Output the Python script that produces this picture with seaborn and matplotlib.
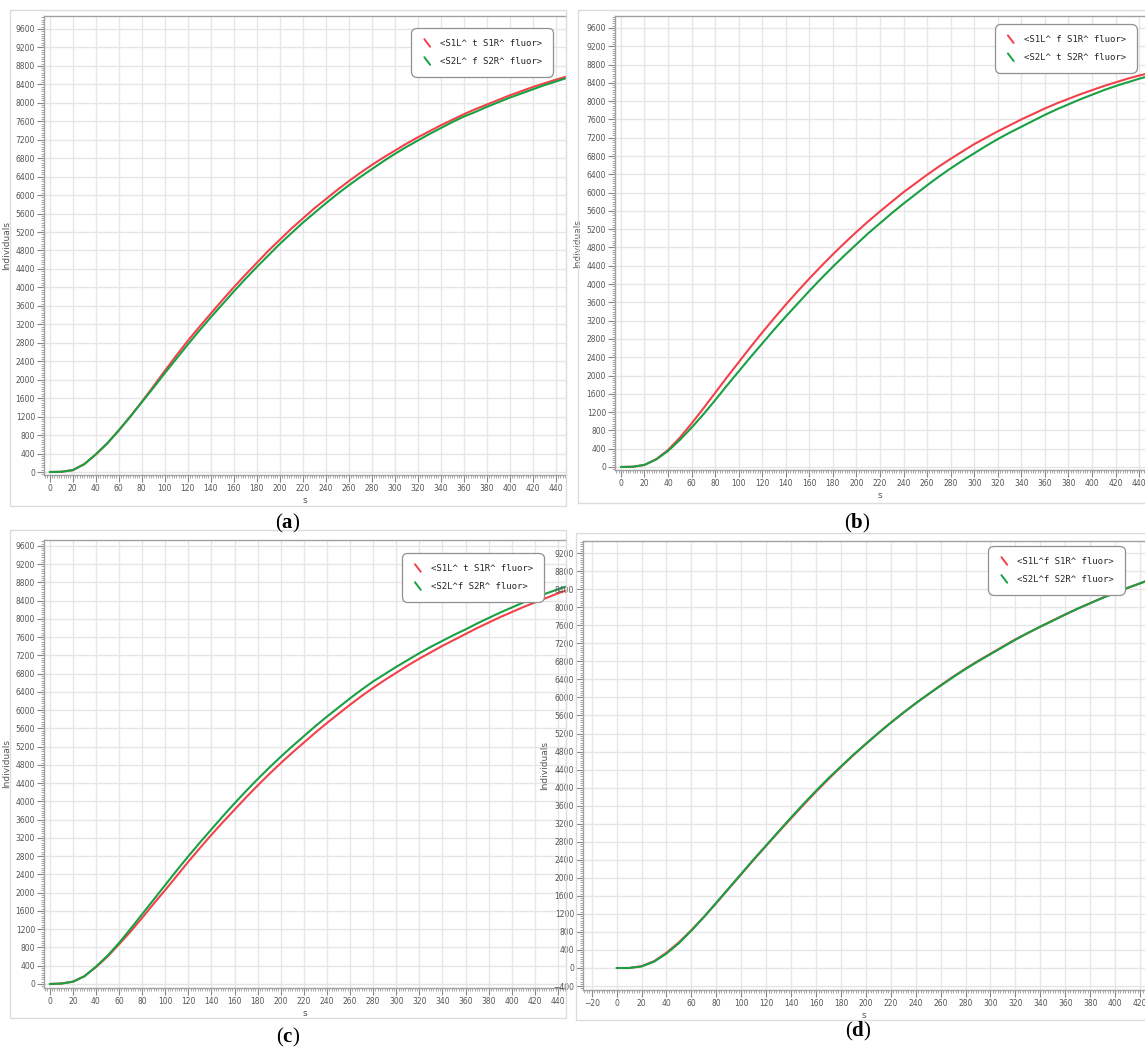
import numpy as np
import pandas as pd
import seaborn as sns
import matplotlib
matplotlib.use("Agg")
import matplotlib.pyplot as plt
from matplotlib.lines import Line2D
from matplotlib.patches import Rectangle
from matplotlib.legend_handler import HandlerBase
from matplotlib.ticker import AutoMinorLocator

# ---- data: population counts (Individuals) vs simulated time (s) ----
time_abc = list(range(0, 460, 10))
time_d = list(range(0, 440, 10))

a_s1 = [0, 5, 40, 170, 380, 620, 900, 1200, 1520, 1850,
        2190, 2520, 2840, 3140, 3430, 3720, 4000, 4270, 4530, 4790,
        5030, 5270, 5490, 5710, 5910, 6110, 6300, 6480, 6650, 6810,
        6960, 7110, 7250, 7380, 7510, 7630, 7750, 7860, 7960, 8060,
        8160, 8250, 8340, 8420, 8500, 8570]
a_s2 = [0, 5, 40, 170, 380, 620, 900, 1200, 1510, 1820,
        2140, 2450, 2760, 3060, 3350, 3630, 3910, 4180, 4440, 4690,
        4940, 5170, 5400, 5610, 5820, 6020, 6210, 6390, 6560, 6730,
        6890, 7040, 7180, 7320, 7450, 7580, 7700, 7800, 7910, 8010,
        8110, 8200, 8290, 8380, 8460, 8540]

b_s1 = [0, 5, 45, 170, 370, 640, 950, 1280, 1620, 1960,
        2290, 2620, 2940, 3250, 3550, 3840, 4120, 4390, 4650, 4900,
        5140, 5370, 5590, 5800, 6010, 6200, 6390, 6570, 6740, 6900,
        7060, 7200, 7340, 7470, 7600, 7720, 7840, 7950, 8050, 8150,
        8240, 8330, 8410, 8490, 8560, 8620]
b_s2 = [0, 5, 45, 165, 350, 590, 860, 1150, 1460, 1780,
        2090, 2400, 2700, 3000, 3290, 3570, 3850, 4120, 4380, 4630,
        4870, 5110, 5330, 5550, 5760, 5960, 6160, 6350, 6530, 6700,
        6860, 7020, 7170, 7310, 7440, 7570, 7700, 7820, 7930, 8040,
        8140, 8240, 8330, 8410, 8490, 8560]

c_s1 = [0, 10, 50, 170, 370, 600, 870, 1150, 1450, 1760,
        2060, 2370, 2680, 2980, 3270, 3550, 3820, 4090, 4350, 4600,
        4840, 5070, 5290, 5510, 5720, 5920, 6120, 6310, 6490, 6660,
        6820, 6980, 7130, 7270, 7410, 7540, 7670, 7800, 7920, 8040,
        8150, 8260, 8360, 8460, 8560, 8650]
c_s2 = [0, 10, 50, 170, 380, 620, 900, 1210, 1530, 1850,
        2170, 2490, 2800, 3100, 3390, 3680, 3960, 4230, 4490, 4740,
        4980, 5210, 5430, 5650, 5860, 6060, 6260, 6450, 6630, 6790,
        6950, 7100, 7250, 7390, 7520, 7650, 7770, 7900, 8020, 8140,
        8250, 8360, 8460, 8560, 8650, 8730]

d_s1 = [0, 0, 40, 150, 340, 570, 840, 1130, 1440, 1760,
        2080, 2400, 2710, 3020, 3320, 3620, 3910, 4190, 4460, 4720,
        4970, 5210, 5440, 5660, 5870, 6070, 6270, 6460, 6640, 6810,
        6970, 7130, 7290, 7430, 7570, 7710, 7840, 7970, 8090, 8210,
        8320, 8430, 8530, 8630]
d_s2 = [0, 0, 35, 140, 320, 550, 830, 1130, 1450, 1770,
        2090, 2410, 2720, 3030, 3340, 3640, 3930, 4210, 4470, 4730,
        4970, 5210, 5440, 5660, 5870, 6070, 6260, 6450, 6630, 6800,
        6960, 7120, 7280, 7430, 7570, 7700, 7840, 7970, 8090, 8210,
        8320, 8430, 8530, 8640]

labels_a = ["<S1L^ t S1R^ fluor>", "<S2L^ f S2R^ fluor>"]
labels_b = ["<S1L^ f S1R^ fluor>", "<S2L^ t S2R^ fluor>"]
labels_c = ["<S1L^ t S1R^ fluor>", "<S2L^f S2R^ fluor>"]
labels_d = ["<S1L^f S1R^ fluor>", "<S2L^f S2R^ fluor>"]
panel_letters = ["a", "b", "c", "d"]

RED = "#f2414a"
GREEN = "#19a043"

sns.set_theme(style="white")
plt.rcParams["font.family"] = ["DejaVu Sans"]
plt.rcParams["mathtext.fontset"] = "custom"
plt.rcParams["mathtext.rm"] = "Liberation Serif"
plt.rcParams["mathtext.bf"] = "Liberation Serif:bold"


class SlashHandler(HandlerBase):
    """Legend key drawn as a short diagonal stroke."""
    def create_artists(self, legend, orig_handle, xdescent, ydescent,
                       width, height, fontsize, trans):
        x0 = -xdescent + width * 0.15
        x1 = -xdescent + width * 0.55
        y0 = -ydescent + height * 1.05
        y1 = -ydescent - height * 0.15
        ln = Line2D([x0, x1], [y0, y1], color=orig_handle.get_color(),
                    lw=1.4, transform=trans)
        return [ln]


fig = plt.figure(figsize=(11.45, 10.55), dpi=100)
W, H = 1145.0, 1055.0


def px_axes(left, top, right, bottom):
    return fig.add_axes([left / W, 1 - bottom / H, (right - left) / W, (bottom - top) / H])


def frame(left, top, right, bottom):
    fig.add_artist(Rectangle((left / W, 1 - bottom / H), (right - left) / W, (bottom - top) / H,
                             transform=fig.transFigure, fill=False, edgecolor="#dcdcdc", lw=1.0))


panels = [
    dict(t=time_abc, s1=a_s1, s2=a_s2, labels=labels_a, box=(44, 16, 566, 475),
         frame=(10, 10, 566, 506), xlim=(-5, 449), ylim=(-65, 9880), yticks=(0, 9600),
         xticks=(0, 440), leg=(0.972, 0.97), letter=(288, 523)),
    dict(t=time_abc, s1=b_s1, s2=b_s2, labels=labels_b, box=(615, 16, 1145, 470),
         frame=(578, 10, 1146, 503), xlim=(-5, 445), ylim=(-66, 9862), yticks=(0, 9600),
         xticks=(0, 440), leg=(0.981, 0.978), letter=(857, 523)),
    dict(t=time_abc, s1=c_s1, s2=c_s2, labels=labels_c, box=(44, 540, 566, 988),
         frame=(10, 530, 566, 1018), xlim=(-5, 447), ylim=(-88, 9730), yticks=(0, 9600),
         xticks=(0, 440), leg=(0.954, 0.967), letter=(288, 1037)),
    dict(t=time_d, s1=d_s1, s2=d_s2, labels=labels_d, box=(583, 541, 1145, 990),
         frame=(576, 533, 1146, 1020), xlim=(-27, 424), ylim=(-488, 9470), yticks=(-400, 9200),
         xticks=(-20, 420), leg=(0.961, 0.985), letter=(858, 1031)),
]

for i, p in enumerate(panels):
    frame(*p["frame"])
    ax = px_axes(*p["box"])
    df = pd.DataFrame({
        "s": list(p["t"]) * 2,
        "Individuals": p["s1"] + p["s2"],
        "series": [p["labels"][0]] * len(p["t"]) + [p["labels"][1]] * len(p["t"]),
    })
    sns.lineplot(data=df, x="s", y="Individuals", hue="series",
                 palette=[RED, GREEN], hue_order=p["labels"], lw=1.5,
                 legend=False, ax=ax, zorder=3)

    ax.set_xlim(*p["xlim"])
    ax.set_ylim(*p["ylim"])
    ax.set_xticks(np.arange(p["xticks"][0], p["xticks"][1] + 1, 20))
    ax.set_yticks(np.arange(p["yticks"][0], p["yticks"][1] + 1, 400))
    ax.xaxis.set_minor_locator(AutoMinorLocator(10))
    ax.yaxis.set_minor_locator(AutoMinorLocator(8))
    ax.grid(True, which="major", color="#e6e6e6", lw=1.0)
    ax.set_axisbelow(True)
    ax.tick_params(axis="both", which="major", length=5, width=0.8, color="#888888",
                   labelsize=5.5, labelcolor="#555555", pad=1.5, direction="out",
                   bottom=True, left=True)
    ax.tick_params(axis="both", which="minor", length=2.5, width=0.6, color="#999999",
                   direction="out", bottom=True, left=True)
    for side in ["left", "bottom", "top"]:
        ax.spines[side].set_color("#a0a0a0")
        ax.spines[side].set_linewidth(1.0)
    ax.spines["right"].set_visible(False)
    ax.set_xlabel("s", fontsize=6.5, color="#555555", labelpad=2)
    ax.set_ylabel("Individuals", fontsize=6.5, color="#555555", labelpad=3)

    handles = [Line2D([], [], color=RED), Line2D([], [], color=GREEN)]
    leg = ax.legend(handles, p["labels"], loc="upper right", bbox_to_anchor=p["leg"],
                    handler_map={Line2D: SlashHandler()}, prop={"family": "DejaVu Sans Mono", "size": 6.5},
                    frameon=True, fancybox=True, framealpha=1.0, edgecolor="#909090",
                    handlelength=1.6, handletextpad=0.4, labelspacing=1.0,
                    borderpad=1.0, borderaxespad=0.0)
    leg.get_frame().set_linewidth(0.9)
    leg.get_frame().set_boxstyle("round,pad=0.2,rounding_size=0.6")
    leg.set_zorder(5)

    lx, ly = p["letter"]
    fig.text(lx / W, 1 - ly / H, r"($\mathbf{%s}$)" % panel_letters[i], ha="center", va="center",
             fontsize=15, family="Liberation Serif", color="black")

fig.savefig("out.png", dpi=100, facecolor="white")
